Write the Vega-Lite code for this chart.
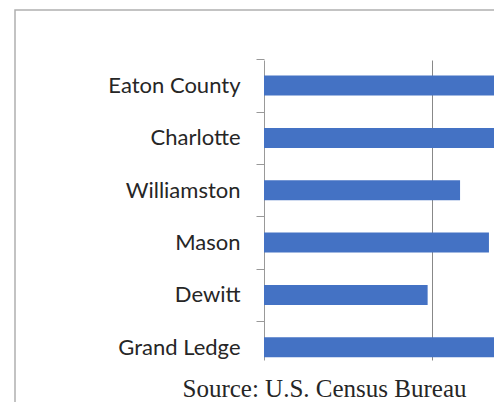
{
  "$schema": "https://vega.github.io/schema/vega-lite/v6.json",
  "autosize": {"type": "none"},
  "padding": {"left": 15, "top": 10, "right": -6, "bottom": -6},
  "width": 485,
  "height": 398,
  "background": "white",
  "config": {
    "view": {"stroke": "#b0b0b0", "strokeWidth": 1.5, "fill": "white"}
  },
  "data": {
    "values": [
      {"place": "Eaton County", "value": 16.0},
      {"place": "Charlotte", "value": 15.5},
      {"place": "Williamston", "value": 11.67},
      {"place": "Mason", "value": 13.39},
      {"place": "Dewitt", "value": 9.74},
      {"place": "Grand Ledge", "value": 16.5}
    ]
  },
  "mark": {"type": "bar", "color": "#4472C4", "clip": true},
  "encoding": {
    "y": {
      "field": "place",
      "type": "nominal",
      "sort": null,
      "scale": {"range": [50, 350], "paddingInner": 0.618, "paddingOuter": 0.1755, "align": 0.85},
      "axis": {
        "title": null,
        "orient": "left",
        "offset": -249,
        "labelFont": "Lato",
        "labelFontSize": 22,
        "labelColor": "#262626",
        "labelPadding": 16,
        "bandPosition": 0,
        "tickOffset": -16.17,
        "labelOffset": 16.17,
        "tickSize": 8,
        "tickColor": "#999999",
        "domainColor": "#999999",
        "grid": false
      }
    },
    "x": {
      "field": "value",
      "type": "quantitative",
      "scale": {"domain": [0, 20], "range": [249, 585], "nice": false, "zero": true},
      "axis": {
        "orient": "top",
        "values": [10],
        "grid": true,
        "gridColor": "#888888",
        "gridWidth": 1,
        "labels": false,
        "ticks": false,
        "domain": false,
        "title": "Source:  U.S. Census Bureau",
        "titleFont": "Liberation Serif",
        "titleFontSize": 25,
        "titleFontWeight": "normal",
        "titleColor": "#262626",
        "titleX": 309,
        "titleY": 386,
        "titleAlign": "center",
        "titleBaseline": "alphabetic"
      }
    }
  }
}
